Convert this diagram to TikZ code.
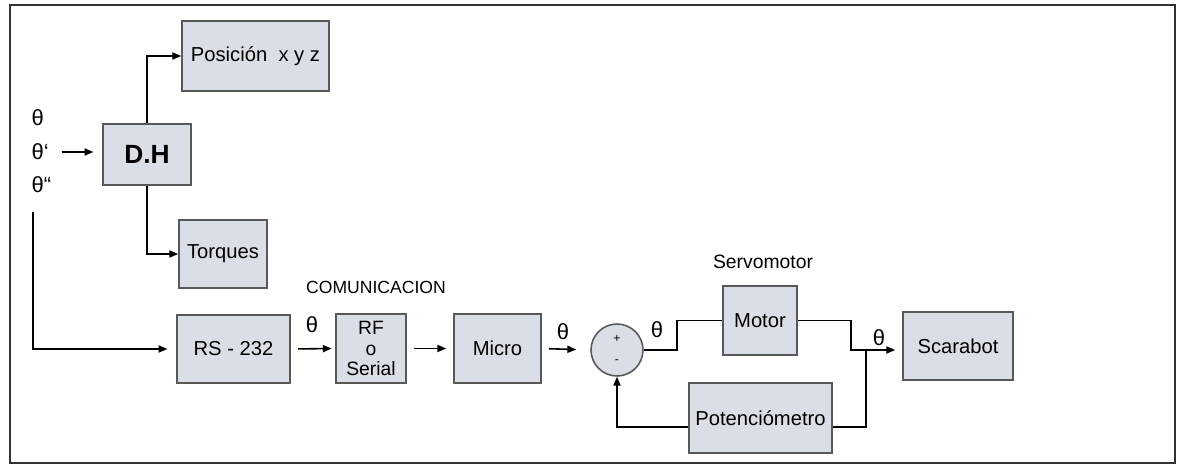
\documentclass[tikz,border=0pt]{standalone}
\usepackage{fontspec}
\setmainfont{Liberation Sans}
\usepackage{tikz}
\usetikzlibrary{arrows.meta, positioning}
\definecolor{boxfill}{RGB}{218,223,231}
\colorlet{boxline}{black!65}

\begin{document}
\begin{tikzpicture}[x=0.02cm, y=-0.02cm, >={Triangle[length=5pt, width=4pt]}, line width=0.9pt,
    block/.style={draw=boxline, fill=boxfill, inner sep=0pt, font=\fontsize{11.5}{13}\selectfont},
    lbl/.style={font=\fontsize{12.5}{14}\selectfont, inner sep=1pt}]
    \useasboundingbox (0,0) rectangle (1177,466);
    \draw[black!80, line width=1.1pt] (10,5) rectangle (1175,463);

    \node[lbl, anchor=west] (th1) at (29,118) {θ};
    \node[lbl, anchor=west] (th2) at (29,152) {θ`};
    \node[lbl, anchor=west] (th3) at (29,185) {θ``};
    \coordinate (in) at (33,212);

    \node[block, minimum width=1.76cm, minimum height=1.22cm, font=\fontsize{15}{17}\selectfont\bfseries] (dh) at (147,154.5) {D.H};
    \node[block, minimum width=2.94cm, minimum height=1.40cm] (pos) at (255.5,56) {Posición~~x y z};
    \node[block, minimum width=1.76cm, minimum height=1.36cm] (torq) at (223,254) {Torques};

    \node[block, minimum width=2.26cm, minimum height=1.36cm] (rs) at (233.5,349) {RS - 232};
    \node[block, minimum width=1.40cm, minimum height=1.38cm, align=center, font=\fontsize{11}{11.5}\selectfont] (rf) at (371,348.5) {RF\\o\\Serial};
    \node[block, minimum width=1.74cm, minimum height=1.38cm] (micro) at (497.5,348.5) {Micro};
    \node[block, circle, minimum size=1.04cm] (sum) at (617,350) {};
    \node[font=\fontsize{7}{8}\selectfont, inner sep=0pt] (plus) at (617,339) {+};
    \node[font=\fontsize{7}{8}\selectfont, inner sep=0pt] (minus) at (617,362) {-};
    \node[block, minimum width=1.48cm, minimum height=1.38cm] (motor) at (760,320.5) {Motor};
    \node[block, minimum width=2.86cm, minimum height=1.40cm] (pot) at (760.5,418) {Potenciómetro};
    \node[block, minimum width=2.20cm, minimum height=1.36cm] (scara) at (958,346) {Scarabot};

    \node[font=\fontsize{10}{12}\selectfont] (comm) at (376,287) {COMUNICACION};
    \node[font=\fontsize{11}{13}\selectfont] (servo) at (763,262) {Servomotor};

    \node[lbl] (thrs) at (312,325) {θ};
    \node[lbl] (thmi) at (563,332) {θ};
    \node[lbl] (thsu) at (657,330) {θ};
    \node[lbl] (thsc) at (879,338) {θ};

    \coordinate (j1) at (677,350);
    \coordinate (j2) at (851,350);
    \coordinate (j3) at (866,350);

    \draw[->, shorten <=6pt, shorten >=5pt] (th2.east) -- (dh.west |- th2.east);
    \draw[->] (dh.north) |- (pos.west);
    \draw[->] (dh.south) |- (torq.west);
    \draw[->, shorten >=5pt] (in) |- (rs.west);
    \draw[->, shorten <=4pt, shorten >=2pt] (rs.east) -- (rf.west);
    \draw[->, shorten <=4pt, shorten >=4pt] (rf.east) -- (micro.west);
    \draw[->, shorten <=4pt, shorten >=8pt] (micro.east) -- (sum.west);
    \draw (sum.east) -- (j1) |- (motor.west);
    \draw[->, shorten >=4pt] (motor.east) -| (j2) -- (scara.west |- j2);
    \draw (j3) |- ([yshift=-0.18cm]pot.east);
    \draw[->] ([yshift=-0.18cm]pot.west) -| (sum.south);
\end{tikzpicture}
\end{document}
